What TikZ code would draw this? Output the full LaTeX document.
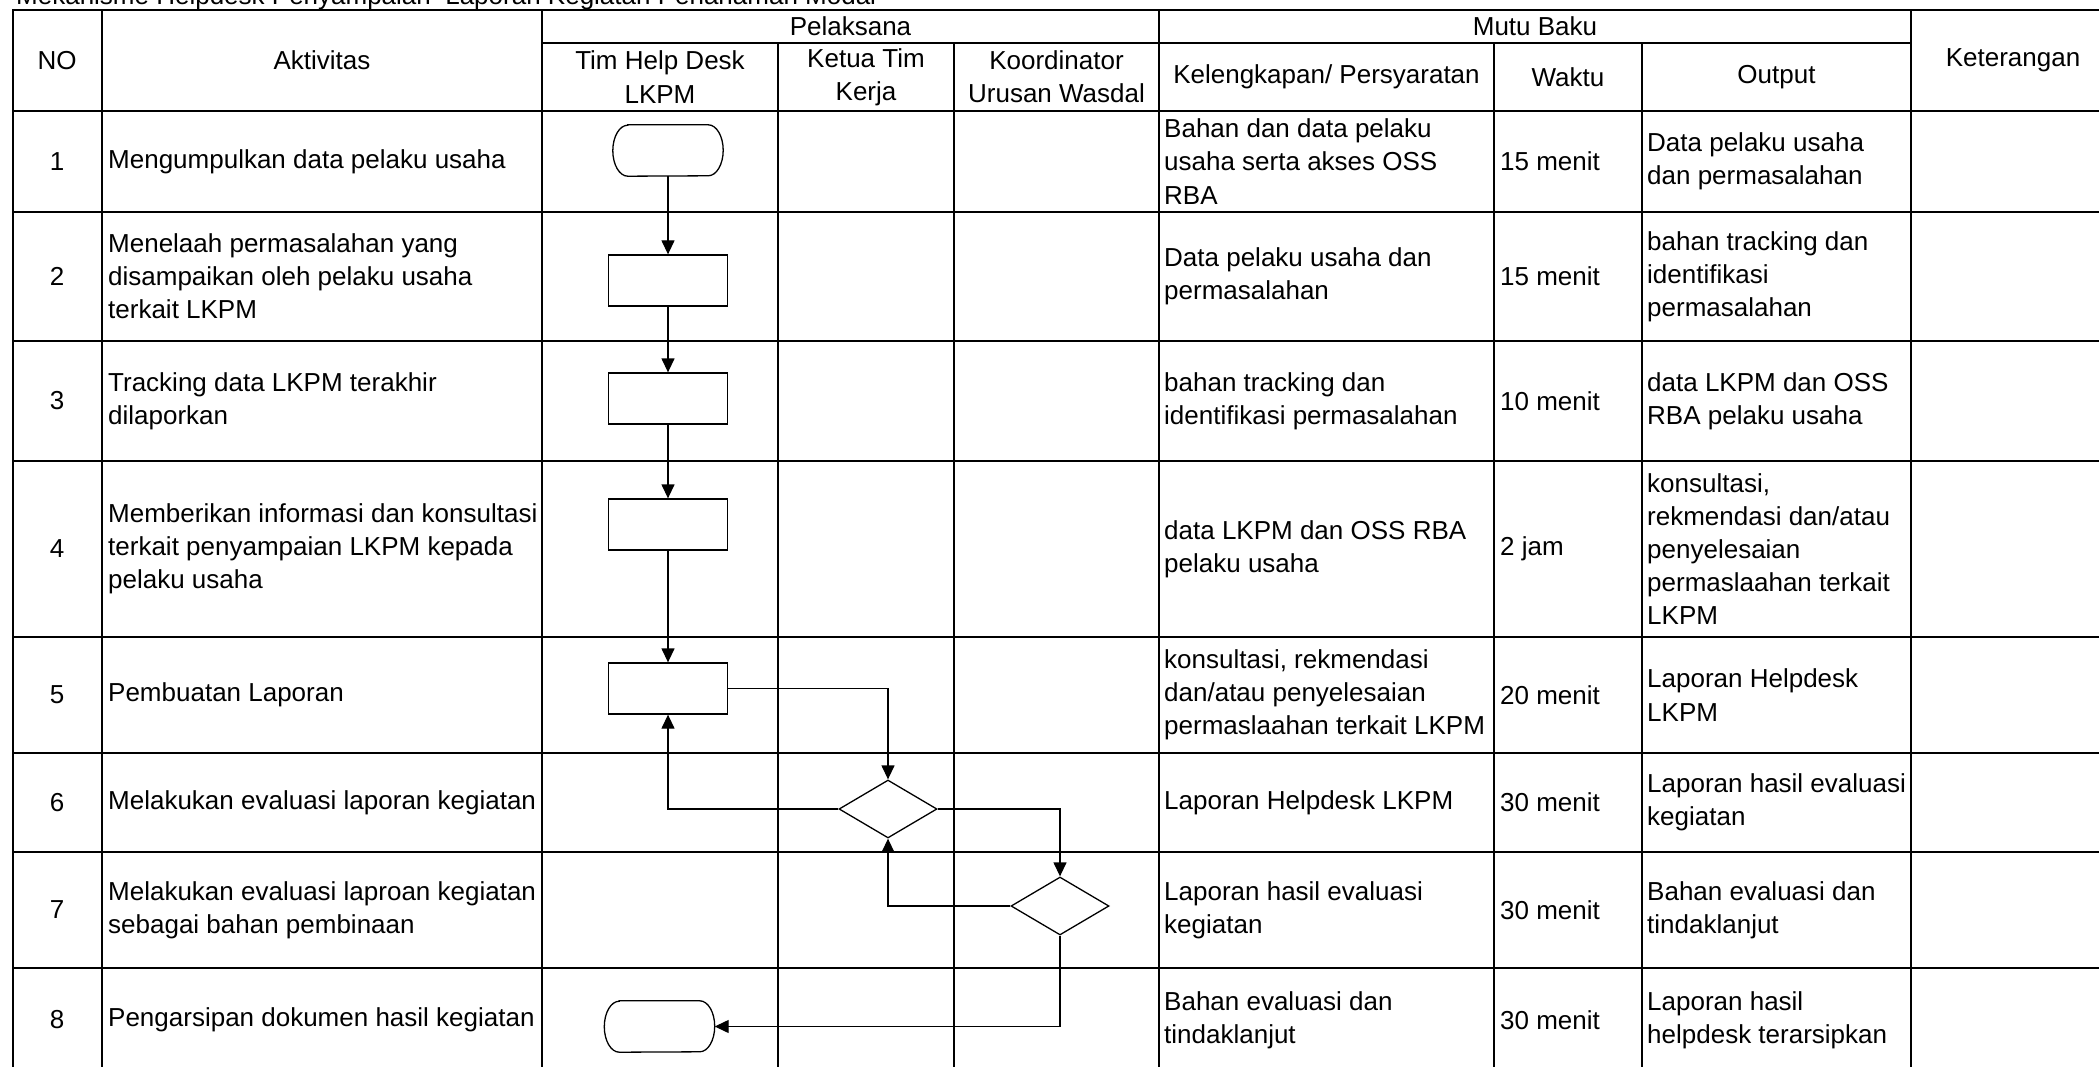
\documentclass[tikz,border=0pt]{standalone}
\usepackage{fontspec}
\setmainfont{Liberation Sans}
\usetikzlibrary{arrows.meta,shapes.geometric}

% garis tepi simbol terminal (sisi kiri dan kanan melengkung)
\newcommand{\terminalline}[1]{%
  \draw[garis] ([xshift=15pt]#1.north west) -- ([xshift=-15pt]#1.north east)
    arc[start angle=90, end angle=-90, x radius=15pt, y radius=25.5pt]
    -- ([xshift=15pt]#1.south west)
    arc[start angle=270, end angle=90, x radius=15pt, y radius=25.5pt] -- cycle;}

\begin{document}
\begin{tikzpicture}[x=1pt, y=-1pt, font=\fontsize{26}{33.2}\selectfont,
    hgaris/.style={line width=2.6pt, line cap=rect},
    vgaris/.style={line width=1.8pt},
    garis/.style={line width=1.3pt},
    alur/.style={garis, -{Triangle[length=14pt, width=13pt]}},
    isi/.style={anchor=west, align=left, inner sep=0pt},
    tengah/.style={align=center, inner sep=0pt},
    proses/.style={draw, garis, rectangle, minimum width=119pt, minimum height=51pt, inner sep=0pt},
    keputusan/.style={draw, garis, diamond, minimum width=98pt, minimum height=58pt, inner sep=0pt},
    terminal/.style={rectangle, minimum width=110pt, minimum height=51pt, inner sep=0pt}]

        \useasboundingbox (0,0) rectangle (2099,1067);

        % JUDUL
        \node[anchor=base west, inner sep=0pt] (judul) at (16,5) {Mekanisme Helpdesk Penyampaian~ Laporan Kegiatan Penanaman Modal};

        % GARIS TABEL
        \foreach \y in {10,111,212,341,461,637,753,852,968}
            \draw[hgaris] (13,\y) -- (2115,\y);
        \draw[hgaris] (542,43) -- (1911,43);
        \foreach \x in {13,102,542,1159,1911,2115}
            \draw[vgaris] (\x,10) -- (\x,1072);
        \foreach \x in {778,954,1494,1642}
            \draw[vgaris] (\x,43) -- (\x,1072);

        % KEPALA TABEL
        \node[tengah] (hno) at (57,60.5) {NO};
        \node[tengah] (hakt) at (322,60.5) {Aktivitas};
        \node[tengah] (hpel) at (850.5,26.5) {Pelaksana};
        \node[tengah] (htim) at (660,77) {Tim Help Desk\\LKPM};
        \node[tengah] (hketua) at (866,77) {Ketua Tim\\Kerja};
        \node[tengah] (hkoor) at (1056.5,77) {Koordinator\\Urusan Wasdal};
        \node[tengah] (hmutu) at (1535,26.5) {Mutu Baku};
        \node[tengah] (hsyarat) at (1326.5,77) {Kelengkapan/ Persyaratan};
        \node[tengah] (hwaktu) at (1568,77) {Waktu};
        \node[tengah] (houtput) at (1776.5,77) {Output};
        \node[tengah] (hket) at (2013,60.5) {Keterangan};

        % NOMOR
        \node[tengah] (no1) at (57,161.5) {1};
        \node[tengah] (no2) at (57,276.5) {2};
        \node[tengah] (no3) at (57,401) {3};
        \node[tengah] (no4) at (57,549) {4};
        \node[tengah] (no5) at (57,695) {5};
        \node[tengah] (no6) at (57,802.5) {6};
        \node[tengah] (no7) at (57,910) {7};
        \node[tengah] (no8) at (57,1020) {8};

        % AKTIVITAS
        \node[isi] (akt1) at (108,161.5) {Mengumpulkan data pelaku usaha};
        \node[isi] (akt2) at (108,276.5) {Menelaah permasalahan yang\\disampaikan oleh pelaku usaha\\terkait LKPM};
        \node[isi] (akt3) at (108,401) {Tracking data LKPM terakhir\\dilaporkan};
        \node[isi] (akt4) at (108,549) {Memberikan informasi dan konsultasi\\terkait penyampaian LKPM kepada\\pelaku usaha};
        \node[isi] (akt5) at (108,695) {Pembuatan Laporan};
        \node[isi] (akt6) at (108,802.5) {Melakukan evaluasi laporan kegiatan};
        \node[isi] (akt7) at (108,910) {Melakukan evaluasi laproan kegiatan\\sebagai bahan pembinaan};
        \node[isi] (akt8) at (108,1020) {Pengarsipan dokumen hasil kegiatan};

        % KELENGKAPAN / PERSYARATAN
        \node[isi] (syarat1) at (1164,161.5) {Bahan dan data pelaku\\usaha serta akses OSS\\RBA};
        \node[isi] (syarat2) at (1164,276.5) {Data pelaku usaha dan\\permasalahan};
        \node[isi] (syarat3) at (1164,401) {bahan tracking dan\\identifikasi permasalahan};
        \node[isi] (syarat4) at (1164,549) {data LKPM dan OSS RBA\\pelaku usaha};
        \node[isi] (syarat5) at (1164,695) {konsultasi, rekmendasi\\dan/atau penyelesaian\\permaslaahan terkait LKPM};
        \node[isi] (syarat6) at (1164,802.5) {Laporan Helpdesk LKPM};
        \node[isi] (syarat7) at (1164,910) {Laporan hasil evaluasi\\kegiatan};
        \node[isi] (syarat8) at (1164,1020) {Bahan evaluasi dan\\tindaklanjut};

        % WAKTU
        \node[isi] (waktu1) at (1500,161.5) {15 menit};
        \node[isi] (waktu2) at (1500,276.5) {15 menit};
        \node[isi] (waktu3) at (1500,401) {10 menit};
        \node[isi] (waktu4) at (1500,549) {2 jam};
        \node[isi] (waktu5) at (1500,695) {20 menit};
        \node[isi] (waktu6) at (1500,802.5) {30 menit};
        \node[isi] (waktu7) at (1500,910) {30 menit};
        \node[isi] (waktu8) at (1500,1020) {30 menit};

        % OUTPUT
        \node[isi] (output1) at (1647,161.5) {Data pelaku usaha\\dan permasalahan};
        \node[isi] (output2) at (1647,276.5) {bahan tracking dan\\identifikasi\\permasalahan};
        \node[isi] (output3) at (1647,401) {data LKPM dan OSS\\RBA pelaku usaha};
        \node[isi] (output4) at (1647,549) {konsultasi,\\rekmendasi dan/atau\\penyelesaian\\permaslaahan terkait\\LKPM};
        \node[isi] (output5) at (1647,695) {Laporan Helpdesk\\LKPM};
        \node[isi] (output6) at (1647,802.5) {Laporan hasil evaluasi\\kegiatan};
        \node[isi] (output7) at (1647,910) {Bahan evaluasi dan\\tindaklanjut};
        \node[isi] (output8) at (1647,1020) {Laporan hasil\\helpdesk terarsipkan};

        % BAGAN ALIR
        \node[terminal] (mulai) at (668,150.5) {};
        \node[proses] (telaah) at (668,280.5) {};
        \node[proses] (tracking) at (668,398.5) {};
        \node[proses] (konsultasi) at (668,524.5) {};
        \node[proses] (laporan) at (668,688.5) {};
        \node[keputusan] (evaluasi) at (888,809) {};
        \node[keputusan] (pembinaan) at (1060,906) {};
        \node[terminal] (arsip) at (659.5,1026.5) {};
        \terminalline{mulai}
        \terminalline{arsip}

        % Panah
        \draw[alur] (mulai.south) -- (telaah.north);
        \draw[alur] (telaah.south) -- (tracking.north);
        \draw[alur] (tracking.south) -- (konsultasi.north);
        \draw[alur] (konsultasi.south) -- (laporan.north);
        \draw[alur] (laporan.east) -| (evaluasi.north);
        \draw[alur] (evaluasi.west) -| (laporan.south);
        \draw[alur] (evaluasi.east) -| (pembinaan.north);
        \draw[alur] (pembinaan.west) -| (evaluasi.south);
        \draw[alur] (pembinaan.south) |- (arsip.east);
    \end{tikzpicture}
\end{document}
